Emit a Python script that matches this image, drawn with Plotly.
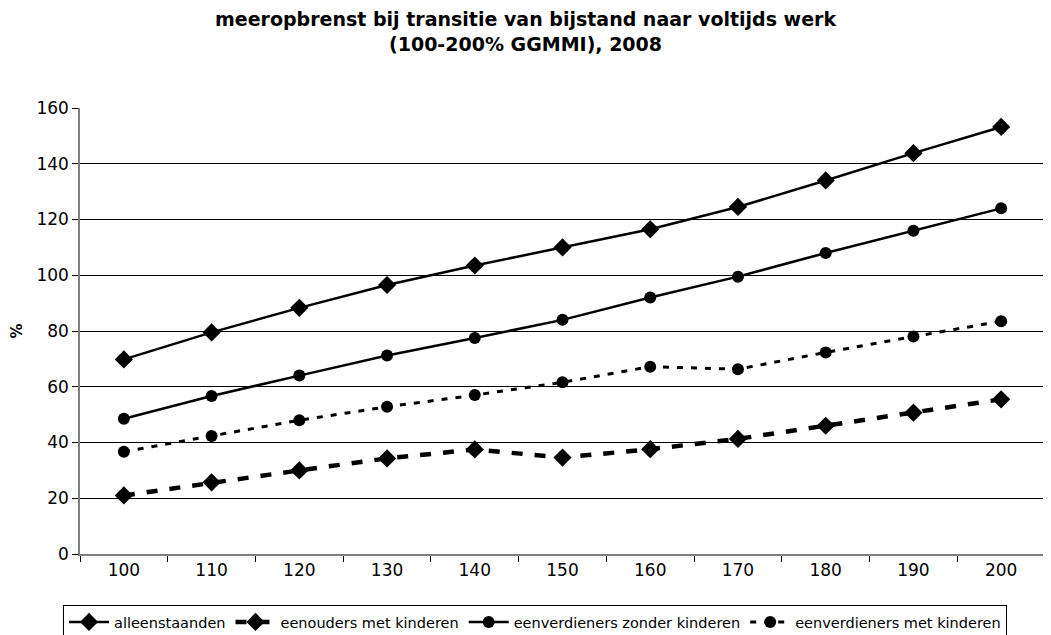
import plotly.graph_objects as go

categories = ["100", "110", "120", "130", "140", "150", "160", "170", "180", "190", "200"]
alleenstaanden = [69.8, 79.5, 88.3, 96.5, 103.5, 110.0, 116.5, 124.5, 134.0, 143.8, 153.2]
eenouders = [21.0, 25.7, 30.0, 34.3, 37.5, 34.6, 37.6, 41.3, 46.0, 50.7, 55.5]
zonder_kinderen = [48.5, 56.7, 64.0, 71.2, 77.5, 84.0, 92.0, 99.5, 108.0, 116.0, 124.0]
met_kinderen = [36.7, 42.3, 48.0, 52.8, 57.0, 61.6, 67.2, 66.3, 72.3, 78.0, 83.5]
y_ticks = [0, 20, 40, 60, 80, 100, 120, 140, 160]
title_text = "meeropbrenst bij transitie van bijstand naar voltijds werk<br>(100-200% GGMMI), 2008"

FONT = "DejaVu Sans, Verdana, sans-serif"

# page body has an 8px default margin; figure is sized so the plot lands where the reference has it
W, H = 1043, 627
L, R, T, B = 72, 6, 100, 81
PLOT_W = W - L - R
PLOT_H = H - T - B

fig = go.Figure()
fig.add_trace(go.Scatter(x=categories, y=alleenstaanden, name="alleenstaanden", mode="lines+markers",
                         line=dict(color="black", width=2.5),
                         marker=dict(symbol="diamond", size=14, color="black")))
fig.add_trace(go.Scatter(x=categories, y=eenouders, name="eenouders met kinderen", mode="lines+markers",
                         line=dict(color="black", width=4.5, dash="11px,12px"),
                         marker=dict(symbol="diamond", size=14, color="black")))
fig.add_trace(go.Scatter(x=categories, y=zonder_kinderen, name="eenverdieners zonder kinderen", mode="lines+markers",
                         line=dict(color="black", width=2.5),
                         marker=dict(symbol="circle", size=12, color="black")))
fig.add_trace(go.Scatter(x=categories, y=met_kinderen, name="eenverdieners met kinderen", mode="lines+markers",
                         line=dict(color="black", width=3, dash="6px,8px"),
                         marker=dict(symbol="circle", size=12, color="black")))

fig.add_annotation(text="<b>" + title_text + "</b>", xref="paper", yref="paper",
                   x=(517 - L) / PLOT_W, y=(H - B + 2) / PLOT_H, xanchor="center", yanchor="top",
                   showarrow=False, align="center",
                   font=dict(family=FONT, size=19, color="black"))

fig.update_layout(
    width=W, height=H,
    margin=dict(l=L, r=R, t=T, b=B, autoexpand=False),
    paper_bgcolor="white", plot_bgcolor="white",
    font=dict(family=FONT, size=16, color="black"),
    showlegend=True,
    legend=dict(orientation="h", x=(55 - L) / PLOT_W, xanchor="left", y=-(597 - (H - B)) / PLOT_H,
                yanchor="top",
                bordercolor="black", borderwidth=1, bgcolor="white",
                font=dict(family=FONT, size=14.5, color="black"),
                itemwidth=40, tracegroupgap=0),
    xaxis=dict(type="category", range=[-0.5, 10.5], showgrid=False, automargin=False,
               showline=True, linecolor="#808080", linewidth=1.5,
               ticks="outside", tickson="boundaries", ticklen=6, tickcolor="black",
               tickfont=dict(family=FONT, size=17), zeroline=False),
    yaxis=dict(range=[0, 160], tickvals=y_ticks, showgrid=True, gridcolor="black", gridwidth=1,
               automargin=False,
               showline=True, linecolor="#808080", linewidth=1.5,
               ticks="outside", ticklen=6, tickcolor="black",
               tickfont=dict(family=FONT, size=17), zeroline=False,
               title=dict(text="<b>%</b>", font=dict(family=FONT, size=15), standoff=14)),
)

fig.write_html("out.html")
